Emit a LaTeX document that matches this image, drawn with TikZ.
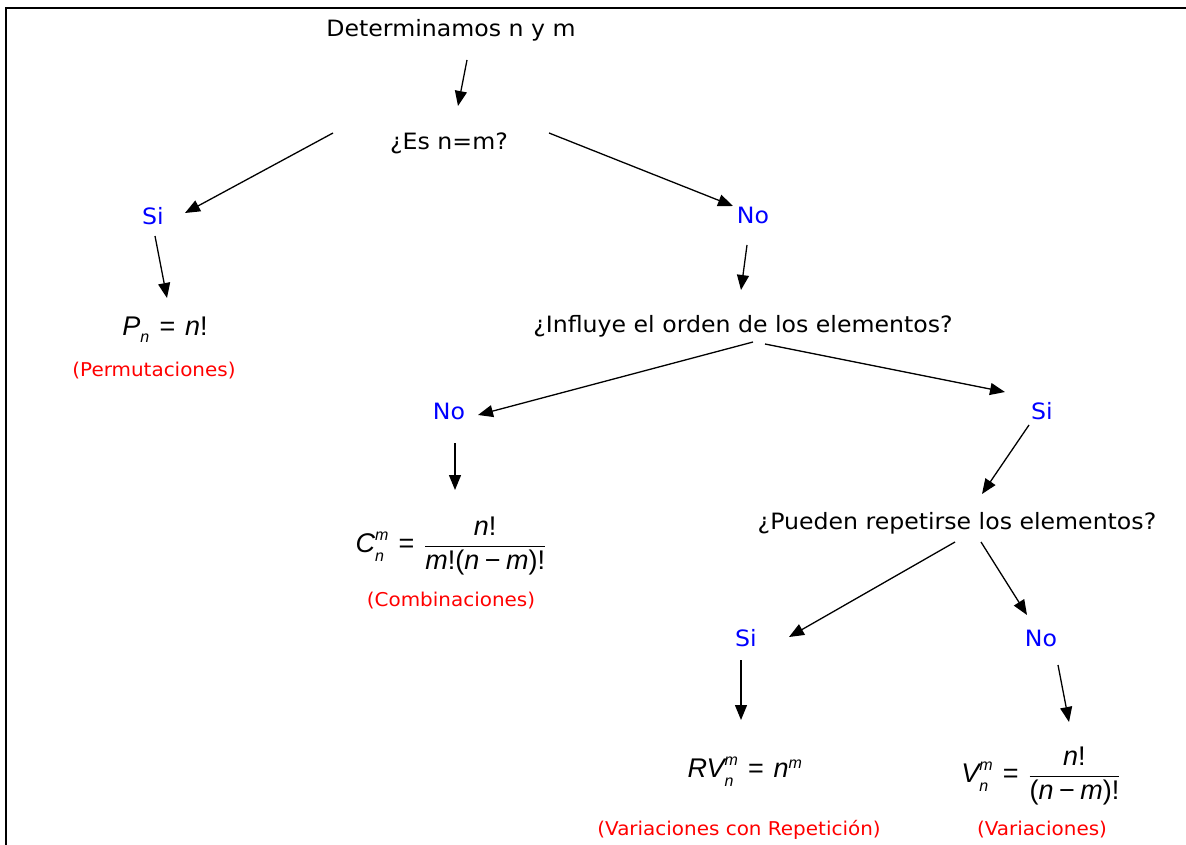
\documentclass[tikz,border=0pt]{standalone}
\usepackage{fontspec}
\setmainfont{DejaVu Sans}[FakeStretch=1.05]
\newfontfamily\mfont{Liberation Sans}
\usetikzlibrary{arrows.meta}
\definecolor{lblue}{RGB}{0,0,255}
\definecolor{lred}{RGB}{255,0,0}
\newcommand{\BV}[1]{\mbox{\mfont\itshape\fontsize{27}{30}\selectfont #1}}
\newcommand{\BU}[1]{\mbox{\mfont\fontsize{27}{30}\selectfont #1}}
\newcommand{\SV}[1]{\mbox{\mfont\itshape\fontsize{16}{18}\selectfont #1}}
\newcommand{\SB}[1]{\raisebox{-3pt}{\SV{#1}}}
\newcommand{\EQ}{\mathrel{\mkern2mu\BU{=}\mkern2mu}}
\newcommand{\MN}{\mathbin{\BU{\textminus}}}
\begin{document}
\begin{tikzpicture}[x=1pt,y=-1pt,
  q/.style={font=\fontsize{22.5}{26}\selectfont, inner sep=0pt},
  ans/.style={q, text=lblue},
  nm/.style={font=\fontsize{19}{22}\selectfont, text=lred, inner sep=0pt},
  fm/.style={font=\fontsize{27}{30}\selectfont, inner sep=0pt},
  arr/.style={line width=1.3pt, -{Triangle[length=15pt,width=12pt]}}]
\useasboundingbox (0,0) rectangle (1186,845);
\draw[line width=2pt] (6,845) -- (6,7.7) -- (1186,7.7);

% nodes
\node[q] (det) at (451,30) {Determinamos n y m};
\node[q] (es) at (449,143) {¿Es n=m?};
\node[ans] (si1) at (153,216) {Si};
\node[ans] (no1) at (753,215) {No};
\node[fm] (pn) at (165,330) {$\BV{P}_{\SB{n}}\EQ\BV{n}\BU{!}$};
\node[nm] (perm) at (154,371) {(Permutaciones)};
\node[q] (inf) at (743,326) {¿Influye el orden de los elementos?};
\node[ans] (no2) at (449,411) {No};
\node[ans] (si2) at (1042,411) {Si};
\node[fm] (cn) at (451,546) {$\BV{C}^{\SV{m}}_{\SB{n}}\EQ\displaystyle\frac{\BV{n}\BU{!}}{\BV{m}\BU{!(}\BV{n}\MN\BV{m}\BU{)!}}$};
\node[nm] (comb) at (451,601) {(Combinaciones)};
\node[q] (pue) at (957,523) {¿Pueden repetirse los elementos?};
\node[ans] (si3) at (746,638) {Si};
\node[ans] (no3) at (1041,638) {No};
\node[fm] (rv) at (745,772) {$\BV{RV}^{\SV{m}}_{\SB{n}}\EQ\BV{n}^{\SV{m}}$};
\node[nm] (vcr) at (739,830) {(Variaciones con Repetición)};
\node[fm] (vn) at (1041,776) {$\BV{V}^{\SV{m}}_{\SB{n}}\EQ\displaystyle\frac{\BV{n}\BU{!}}{\BU{(}\BV{n}\MN\BV{m}\BU{)!}}$};
\node[nm] (var) at (1042,830) {(Variaciones)};

% connector ends
\coordinate (det-o) at (467,60);   \coordinate (es-i) at (458,106);
\coordinate (es-l) at (333,133);   \coordinate (si1-i) at (185,213);
\coordinate (es-r) at (549,133);   \coordinate (no1-i) at (733,206);
\coordinate (si1-o) at (155,236);  \coordinate (pn-i) at (167,298);
\coordinate (no1-o) at (747,245);  \coordinate (inf-i) at (741,290);
\coordinate (inf-l) at (753,342);  \coordinate (no2-i) at (478,415);
\coordinate (inf-r) at (765,344);  \coordinate (si2-i) at (1005,392);
\coordinate (no2-o) at (455,443);  \coordinate (cn-i) at (455,490);
\coordinate (si2-o) at (1029,425); \coordinate (pue-i) at (982,494);
\coordinate (pue-l) at (955,542);  \coordinate (si3-i) at (789,637);
\coordinate (pue-r) at (981,542);  \coordinate (no3-i) at (1027,615);
\coordinate (si3-o) at (741,660);  \coordinate (rv-i) at (741,720);
\coordinate (no3-o) at (1058,665); \coordinate (vn-i) at (1069,722);

\draw[arr] (det-o) -- (es-i);
\draw[arr] (es-l) -- (si1-i);
\draw[arr] (es-r) -- (no1-i);
\draw[arr] (si1-o) -- (pn-i);
\draw[arr] (no1-o) -- (inf-i);
\draw[arr] (inf-l) -- (no2-i);
\draw[arr] (inf-r) -- (si2-i);
\draw[arr] (no2-o) -- (cn-i);
\draw[arr] (si2-o) -- (pue-i);
\draw[arr] (pue-l) -- (si3-i);
\draw[arr] (pue-r) -- (no3-i);
\draw[arr] (si3-o) -- (rv-i);
\draw[arr] (no3-o) -- (vn-i);
\end{tikzpicture}
\end{document}
